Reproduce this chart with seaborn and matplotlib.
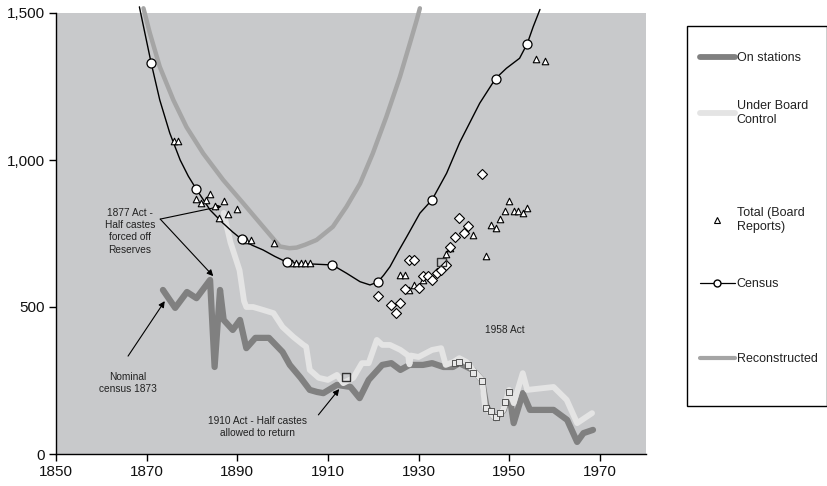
import numpy as np
import pandas as pd
import matplotlib
matplotlib.use("Agg")
import matplotlib.pyplot as plt
import matplotlib.ticker as mticker
from matplotlib.lines import Line2D
from matplotlib.patches import Rectangle
import seaborn as sns

# --- data ---
census_years = [1871, 1881, 1891, 1901, 1911, 1921, 1933, 1947, 1954]
census_vals = [1330, 900, 730, 652, 643, 585, 865, 1277, 1396]

# smooth census curve
census_curve_years = [1868.4, 1871, 1872.9, 1875.1, 1877.4, 1879.2, 1881, 1884, 1886.8,
                      1889, 1891, 1893.3, 1895.7, 1898.3, 1901, 1903.9, 1906.8, 1911,
                      1914.1, 1917.1, 1919.3, 1921, 1922.3, 1923.7, 1925.5, 1927.4, 1930.3,
                      1933, 1936.2, 1939.1, 1943.5, 1947, 1949.4, 1952.3, 1954, 1955.3,
                      1956.8]
census_curve_vals = [1521, 1330, 1204, 1092, 1000, 945, 900, 830, 786,
                     755, 730, 710, 694, 672, 652, 648, 646, 643,
                     615, 586, 575, 585, 608, 637, 688, 739, 819,
                     865, 955, 1060, 1193, 1277, 1312, 1346, 1396, 1453,
                     1512]

recon_years = [1869.3, 1870.7, 1872.9, 1875.9, 1878.8, 1882.5, 1886.9, 1891.3, 1895.7,
               1899.4, 1901.5, 1903.1, 1905, 1907.5, 1911.1, 1914.1, 1917.1, 1919.9,
               1922.9, 1925.9, 1928.1, 1929.6, 1930.3]
recon_vals = [1516, 1432, 1317, 1204, 1112, 1022, 932, 853, 773,
              706, 700, 702, 712, 728, 773, 841, 920, 1022,
              1147, 1283, 1397, 1476, 1516]

board_years = [1876, 1877, 1881, 1882, 1883, 1884, 1885, 1886, 1887, 1888, 1890, 1892,
               1893, 1898, 1902, 1903, 1904, 1905, 1906, 1926, 1927, 1928, 1929, 1931,
               1936, 1937, 1942, 1945, 1946, 1947, 1948, 1949, 1950, 1951, 1952, 1953,
               1954, 1956, 1958]
board_vals = [1065, 1065, 867, 854, 864, 884, 843, 803, 860, 816, 833, 728,
              728, 718, 650, 650, 650, 650, 650, 609, 609, 558, 575, 592,
              680, 700, 745, 673, 779, 769, 800, 827, 860, 827, 827, 820,
              837, 1343, 1337]

diamond_years = [1921, 1924, 1925, 1926, 1927, 1928, 1929, 1930, 1931, 1932, 1933, 1934,
                 1935, 1936, 1937, 1938, 1939, 1940, 1941, 1944]
diamond_vals = [538, 507, 480, 514, 560, 660, 660, 565, 605, 605, 592, 615,
                626, 643, 703, 739, 802, 751, 775, 952]

square_years = [1914, 1935]
square_vals = [262, 653]

small_sq_years = [1938, 1939, 1941, 1942, 1944, 1945, 1946, 1947, 1948, 1949, 1950]
small_sq_vals = [309, 313, 303, 275, 248, 156, 146, 126, 139, 177, 211]

stations_years = [1873.6, 1876.3, 1878.9, 1881, 1884, 1885, 1886.2, 1887, 1889, 1890.6,
                  1892, 1894, 1897, 1900, 1901.6, 1904, 1906, 1907.6, 1909, 1912, 1915,
                  1917, 1919, 1922, 1924, 1926, 1928, 1931, 1933, 1935.5, 1937.6, 1939,
                  1942, 1944, 1945, 1947, 1948.8, 1950, 1951, 1953, 1954.6, 1959.8,
                  1962.8, 1965, 1966.4, 1968.5]
stations_vals = [558, 497, 551, 530, 592, 296, 558, 456, 422, 456,
                 360, 395, 395, 347, 303, 259, 218, 211, 207, 235, 228,
                 190, 252, 303, 309, 286, 303, 303, 309, 296, 296, 309,
                 286, 252, 160, 122, 150, 207, 105, 207, 150, 150,
                 116, 41, 71, 82]

board_ctrl_years = [1887, 1888.5, 1890.5, 1891.5, 1892, 1893.5, 1895.7, 1898, 1900, 1902.4,
                    1904.6, 1905.2, 1906, 1908, 1910, 1912, 1913.4, 1915.6, 1917.5, 1919,
                    1920.8, 1922, 1923.7, 1926, 1927.7, 1928, 1928.3, 1930, 1933, 1935,
                    1936, 1937.7, 1939, 1940.6, 1942, 1944, 1944.7, 1947, 1948.7, 1950,
                    1951, 1953, 1954, 1959.8, 1962.7, 1965, 1968.3]
board_ctrl_vals = [820, 720, 625, 520, 500, 500, 490, 479, 432, 398,
                   371, 365, 286, 259, 252, 269, 241, 259, 309, 309,
                   388, 371, 371, 354, 335, 305, 335, 330, 354, 360,
                   303, 313, 326, 313, 286, 252, 160, 122, 150, 218,
                   173, 275, 218, 228, 184, 105, 139]

# --- style ---
sns.set_theme(style="white")
plt.rcParams["font.family"] = ["Liberation Sans", "DejaVu Sans"]

BG = "#c8c9cb"
DARK = "#808080"
LIGHT = "#e4e4e4"
RECON = "#a5a5a5"
TXT = "#222222"

fig = plt.figure(figsize=(8.28, 4.86), dpi=100)
ax = fig.add_axes([56 / 828, 1 - 454 / 486, (646 - 56) / 828, (454 - 13) / 486])
ax.set_facecolor(BG)

df_st = pd.DataFrame({"year": stations_years, "n": stations_vals})
df_bc = pd.DataFrame({"year": board_ctrl_years, "n": board_ctrl_vals})
df_rc = pd.DataFrame({"year": recon_years, "n": recon_vals})
df_cc = pd.DataFrame({"year": census_curve_years, "n": census_curve_vals})

sns.lineplot(data=df_rc, x="year", y="n", ax=ax, color=RECON, lw=3.2, sort=False,
             estimator=None, clip_on=False, solid_capstyle="round",
             solid_joinstyle="round", zorder=2)
sns.lineplot(data=df_st, x="year", y="n", ax=ax, color=DARK, lw=4.5, sort=False,
             estimator=None, solid_joinstyle="round", solid_capstyle="round", zorder=3)
sns.lineplot(data=df_bc, x="year", y="n", ax=ax, color=LIGHT, lw=4.2, sort=False,
             estimator=None, solid_joinstyle="round", solid_capstyle="round", zorder=4)
sns.lineplot(data=df_cc, x="year", y="n", ax=ax, color="black", lw=1.0, sort=False,
             estimator=None, clip_on=False, solid_joinstyle="round", zorder=5)

sns.scatterplot(x=small_sq_years, y=small_sq_vals, ax=ax, marker="s", s=14,
                facecolor="#e8e8e8", edgecolor="#555555", linewidth=0.7, zorder=6)
sns.scatterplot(x=board_years, y=board_vals, ax=ax, marker="^", s=22,
                facecolor="white", edgecolor="black", linewidth=0.8, zorder=7)
sns.scatterplot(x=diamond_years, y=diamond_vals, ax=ax, marker="D", s=26,
                facecolor="white", edgecolor="black", linewidth=0.8, zorder=7)
sns.scatterplot(x=square_years, y=square_vals, ax=ax, marker="s", s=40,
                facecolor="none", edgecolor="#333333", linewidth=1.0, zorder=7)
sns.scatterplot(x=census_years, y=census_vals, ax=ax, marker="o", s=42,
                facecolor="white", edgecolor="black", linewidth=0.9, zorder=8)

# --- annotations ---
arrow = dict(arrowstyle="-|>", color="black", lw=0.8, mutation_scale=9, shrinkA=0, shrinkB=0)
fs = 7.3
ax.text(1866.3, 758, "1877 Act -\nHalf castes\nforced off\nReserves", ha="center", va="center",
        fontsize=fs, color=TXT, linespacing=1.3)
ax.annotate("", xy=(1886.6, 843), xytext=(1873, 799), arrowprops=arrow)
ax.annotate("", xy=(1884.7, 605), xytext=(1873, 799), arrowprops=arrow)
ax.text(1865.9, 241, "Nominal\ncensus 1873", ha="center", va="center", fontsize=fs,
        color=TXT, linespacing=1.3)
ax.annotate("", xy=(1874, 520), xytext=(1865.9, 333), arrowprops=arrow)
ax.text(1894.4, 92, "1910 Act - Half castes\nallowed to return", ha="center", va="center",
        fontsize=fs, color=TXT, linespacing=1.3)
ax.annotate("", xy=(1912.5, 221), xytext=(1907.9, 133), arrowprops=arrow)
ax.text(1949.1, 422, "1958 Act", ha="center", va="center", fontsize=fs, color=TXT)

# --- axes ---
ax.set_xlim(1850, 1980.2)
ax.set_ylim(0, 1500)
ax.set_xticks(range(1850, 1971, 20))
ax.set_yticks([0, 500, 1000, 1500])
ax.yaxis.set_major_formatter(mticker.FuncFormatter(lambda v, p: f"{int(v):,}"))
ax.set_xlabel("")
ax.set_ylabel("")
for side in ["top", "right"]:
    ax.spines[side].set_visible(False)
for side in ["left", "bottom"]:
    ax.spines[side].set_color("black")
    ax.spines[side].set_linewidth(1.0)
ax.tick_params(axis="both", direction="out", length=5, width=1, color="black",
               labelsize=11, labelcolor="#111111", pad=3, left=True, bottom=True)

# --- legend: framed box with hand-placed entries ---
fig.patches.append(Rectangle((687 / 828, 1 - 406 / 486), (827 - 687) / 828, (406 - 26) / 486,
                             transform=fig.transFigure, fill=False, edgecolor="black", lw=1.0))
entries = [
    (Line2D([], [], color=DARK, lw=4.2), "On stations", 58),
    (Line2D([], [], color=LIGHT, lw=4.2), "Under Board\nControl", 113),
    (Line2D([], [], ls="none", marker="^", ms=4, mfc="white", mec="black", mew=0.8),
     "Total (Board\nReports)", 220),
    (Line2D([], [], color="black", lw=0.9, marker="o", ms=5, mfc="white", mec="black"),
     "Census", 284),
    (Line2D([], [], color=RECON, lw=3.0), "Reconstructed", 359),
]
for h, lab, ypx in entries:
    fig.legend([h], [lab], loc="center left", bbox_to_anchor=(700 / 828, 1 - ypx / 486),
               frameon=False, fontsize=9, handlelength=2.8, handletextpad=0.15,
               borderpad=0, borderaxespad=0, labelcolor=TXT)

fig.savefig("out.png", dpi=100)
